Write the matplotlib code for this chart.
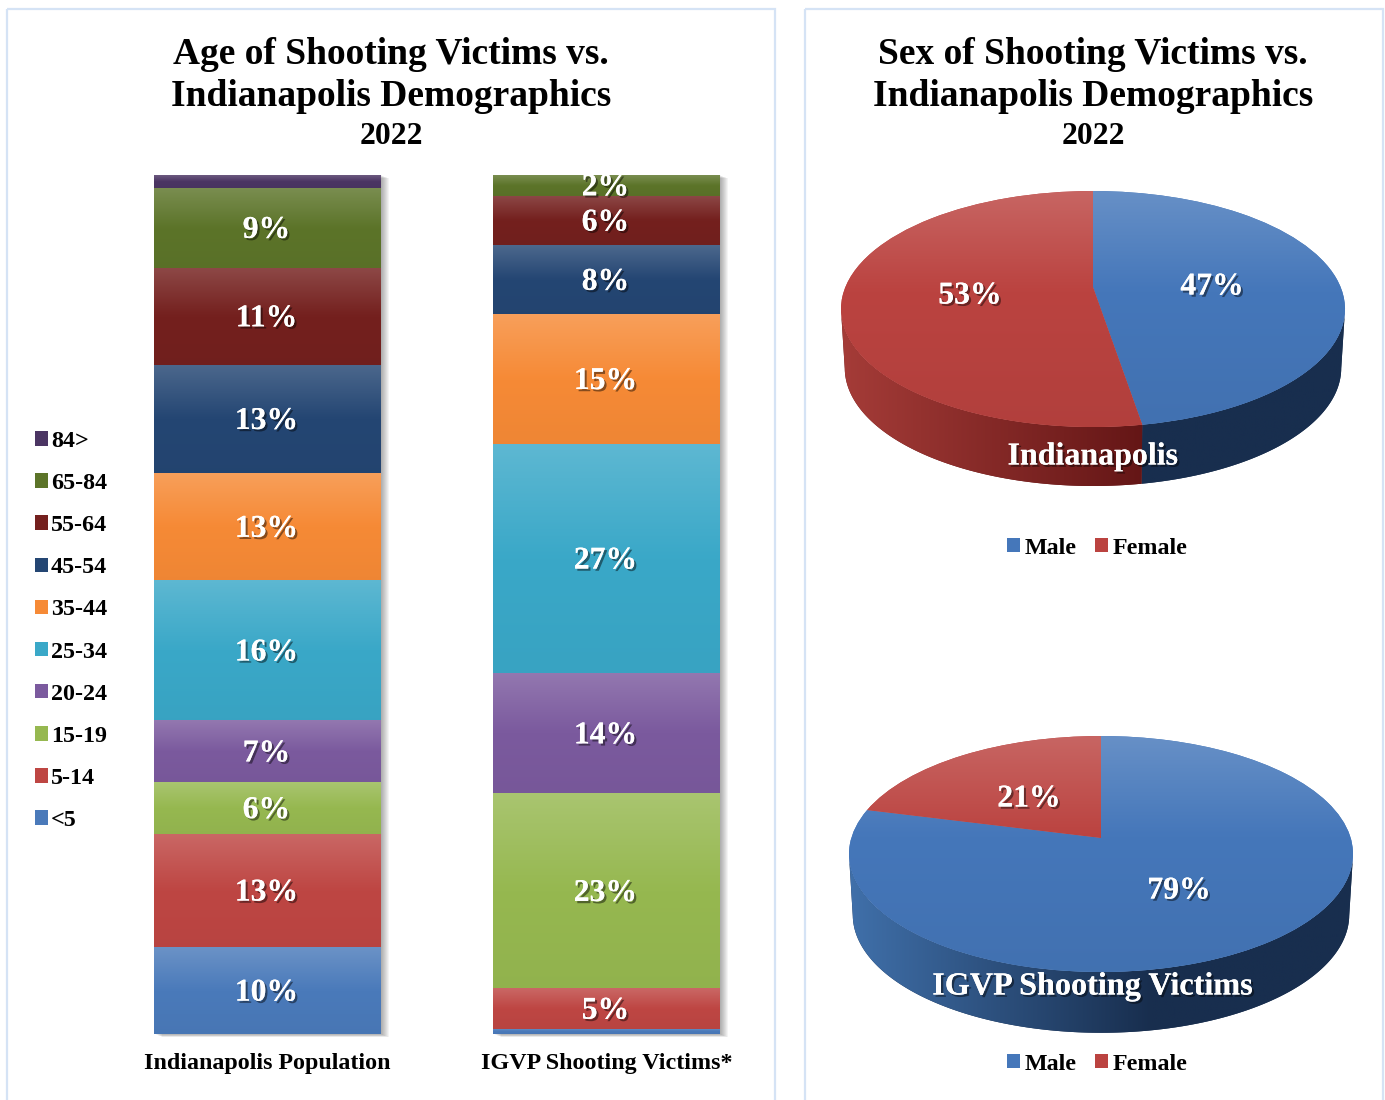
import numpy as np
import matplotlib
matplotlib.use('Agg')
import matplotlib.pyplot as plt
import matplotlib.patheffects as pe
from matplotlib.colors import to_rgb
from matplotlib.patches import Polygon, Rectangle
from matplotlib.transforms import Transform

plt.rcParams['font.family'] = ['Liberation Serif', 'DejaVu Sans']
plt.rcParams['font.weight'] = 'bold'

W, H = 1385, 1100

age_groups = ['<5', '5-14', '15-19', '20-24', '25-34', '35-44', '45-54', '55-64', '65-84', '84>']
age_colors = ['#4a7aba', '#be4643', '#96b850', '#7b5a9e', '#3aa8c8', '#f68a36',
              '#244673', '#74201e', '#5c7429', '#4b3563']
bar_names = ['Indianapolis Population', 'IGVP Shooting Victims*']
pop_values = [10.1, 13.2, 6.0, 7.2, 16.3, 12.5, 12.6, 11.3, 9.3, 1.5]
pop_labels = ['10%', '13%', '6%', '7%', '16%', '13%', '13%', '11%', '9%', '']
igvp_values = [0.6, 4.7, 22.7, 14.0, 26.7, 15.1, 8.0, 5.8, 2.4, 0.0]
igvp_labels = ['', '5%', '23%', '14%', '27%', '15%', '8%', '6%', '2%', '']

sex_groups = ['Male', 'Female']
sex_colors = ['#4577ba', '#bb4340']
wall_left = ['#4070aa', '#a53c38']
wall_right = ['#182e4e', '#641616']
indy_sex = [47.4, 52.6]
igvp_sex = [79, 21]


class DiskTilt(Transform):
    # projective map of the unit disk onto itself, moves the hub up like the 3D pie
    input_dims = 2
    output_dims = 2

    def __init__(self, a):
        super().__init__()
        self.a = a

    def transform_non_affine(self, xy):
        xy = np.asarray(xy, dtype=float)
        d = 1 + self.a * xy[:, 1]
        return np.column_stack([xy[:, 0] * np.sqrt(1 - self.a ** 2) / d, (xy[:, 1] + self.a) / d])


def stops(color, light, dark):
    c = np.array(to_rgb(color))
    return c + (1 - c) * light, c, c * dark


def vgrad(color, light=0.18, dark=0.97, mid=0.5, n=64):
    top, c, bot = stops(color, light, dark)
    t = np.linspace(0, 1, n)
    return np.stack([np.interp(t, [0, mid, 1], [top[k], c[k], bot[k]]) for k in range(3)], axis=1)[:, None, :]


def outlined(size=1.6):
    return [pe.withSimplePatchShadow(offset=(size, -size), shadow_rgbFace='black', alpha=0.45), pe.Normal()]


fig = plt.figure(figsize=(W / 100, H / 100), dpi=100)
fig.patch.set_facecolor('white')


def box(x0, y0, x1, y1):
    return [x0 / W, 1 - y1 / H, (x1 - x0) / W, (y1 - y0) / H]


# canvas in image pixels for the frames and free text
canvas = fig.add_axes([0, 0, 1, 1], zorder=10)
canvas.set_xlim(0, W)
canvas.set_ylim(H, 0)
canvas.axis('off')
canvas.patch.set_visible(False)
for x0, x1 in [(7, 775), (805, 1383)]:
    canvas.add_patch(Rectangle((x0, 9), x1 - x0, H, fill=False, ec='#d5e3f5', lw=1.6))

for cx, lines in [(391, ['Age of Shooting Victims vs.', 'Indianapolis Demographics']),
                  (1093, ['Sex of Shooting Victims vs.', 'Indianapolis Demographics'])]:
    canvas.text(cx, 54, lines[0], fontsize=27, ha='center', va='center')
    canvas.text(cx, 97, lines[1], fontsize=27, ha='center', va='center')
    canvas.text(cx, 137, '2022', fontsize=22.7, ha='center', va='center')

# stacked bars
ax = fig.add_axes(box(98, 175, 776, 1034))
ax.set_xlim(-0.5, 1.5)
ax.set_ylim(0, 100)
for s in ax.spines.values():
    s.set_visible(False)
ax.set_yticks([])
ax.set_xticks([0, 1])
ax.set_xticklabels(bar_names, fontsize=17.3)
ax.tick_params(axis='x', length=0, pad=14)

bar_w = 0.668
px_x = 2 / 678
px_y = 100 / 859
for i, vals in enumerate([pop_values, igvp_values]):
    total = sum(vals)
    for k in range(1, 9):
        ax.bar(i + k * px_x, total, width=bar_w, bottom=-k * 0.4 * px_y, color='black',
               alpha=0.045, lw=0, zorder=0, clip_on=False)

handles = []
bottoms = [0.0, 0.0]
for j, name in enumerate(age_groups):
    vals = [pop_values[j], igvp_values[j]]
    labels = [pop_labels[j], igvp_labels[j]]
    bars = ax.bar([0, 1], vals, width=bar_w, bottom=bottoms, color=age_colors[j], lw=0, zorder=2, label=name)
    handles.append(bars[0])
    for i, rect in enumerate(bars):
        if vals[i] <= 0:
            continue
        im = ax.imshow(vgrad(age_colors[j]), aspect='auto', zorder=3, interpolation='bilinear',
                       extent=[i - bar_w / 2, i + bar_w / 2, bottoms[i], bottoms[i] + vals[i]])
        im.set_clip_path(rect)
        if labels[i]:
            ax.text(i - 0.003, bottoms[i] + vals[i] / 2 - 2.5 * px_y, labels[i], color='white', fontsize=22.8,
                    ha='center', va='center', zorder=5, path_effects=outlined())
    bottoms = [bottoms[0] + vals[0], bottoms[1] + vals[1]]
ax.set_xlim(-0.5, 1.5)
ax.set_ylim(0, 100)

ax.legend(handles[::-1], age_groups[::-1], loc='center left', bbox_to_anchor=(35 / W, 1 - 631 / H),
          bbox_transform=fig.transFigure, frameon=False, fontsize=17.3, labelspacing=0.88,
          handlelength=0.54, handleheight=0.54, handletextpad=0.12, borderpad=0, borderaxespad=0)


def pie_3d(values, cx, cy, a, depth, legend_y):
    rx, ry = 252, 118
    pie_ax = fig.add_axes(box(cx - 1.1 * rx, cy - 1.1 * ry, cx + 1.1 * rx, cy + 1.7 * ry))
    wedges, _ = pie_ax.pie(values, colors=sex_colors, startangle=90, counterclock=False,
                           radius=1, wedgeprops={'linewidth': 0})
    pie_ax.set_aspect('auto')
    tilt = DiskTilt(a)
    for n, w in enumerate(wedges):
        w.set_transform(tilt + pie_ax.transData)
        w.set_zorder(3)
        theta = np.radians(np.linspace(w.theta1, w.theta2, 400))
        rim = tilt.transform_non_affine(np.column_stack([np.cos(theta), np.sin(theta)]))
        rim = rim[rim[:, 1] <= 0]
        if len(rim) > 1:
            # outer wall below the rim of this slice
            low = np.column_stack([rim[:, 0] * 0.985, rim[:, 1] - depth])
            wall = Polygon(np.vstack([rim, low[::-1]]), closed=True, fc=wall_right[n], lw=0, zorder=1)
            pie_ax.add_patch(wall)
            left, right = np.array(to_rgb(wall_left[n])), np.array(to_rgb(wall_right[n]))
            t = np.clip((np.linspace(-1.05, 1.05, 256) + 1) / 1.2, 0, 1)[:, None]
            shade = (left * (1 - t) + right * t)[None, :, :]
            im = pie_ax.imshow(shade, aspect='auto', extent=[-1.05, 1.05, -1.6, 0.2], zorder=2)
            im.set_clip_path(wall)
        face = pie_ax.imshow(vgrad(sex_colors[n], light=0.18, dark=0.95, mid=0.42), aspect='auto',
                             extent=[-1.05, 1.05, -1, 1], zorder=4, interpolation='bilinear')
        face.set_clip_path(w)
    pie_ax.set_xlim(-1.1, 1.1)
    pie_ax.set_ylim(-1.7, 1.1)
    pie_ax.set_xticks([])
    pie_ax.set_yticks([])
    pie_ax.legend(wedges, sex_groups, loc='center', bbox_to_anchor=(1097 / W, 1 - legend_y / H),
                  bbox_transform=fig.transFigure, frameon=False, ncol=2, fontsize=17.3,
                  handlelength=0.54, handleheight=0.54, handletextpad=0.2, columnspacing=0.75,
                  borderpad=0, borderaxespad=0)
    return pie_ax


pie_3d(indy_sex, 1093, 309, 0.186, 0.5, 548)
pie_3d(igvp_sex, 1101, 854, 0.136, 0.515, 1064)

for x, y, txt, size in [(1212, 287, '47%', 22.8), (970, 296, '53%', 22.8), (1093, 457, 'Indianapolis', 23),
                        (1029, 799, '21%', 22.8), (1179, 891, '79%', 22.8),
                        (1093, 987, 'IGVP Shooting Victims', 23.2)]:
    canvas.text(x, y, txt, color='white', fontsize=size, ha='center', va='center', path_effects=outlined())

fig.savefig('out.png', dpi=100)
